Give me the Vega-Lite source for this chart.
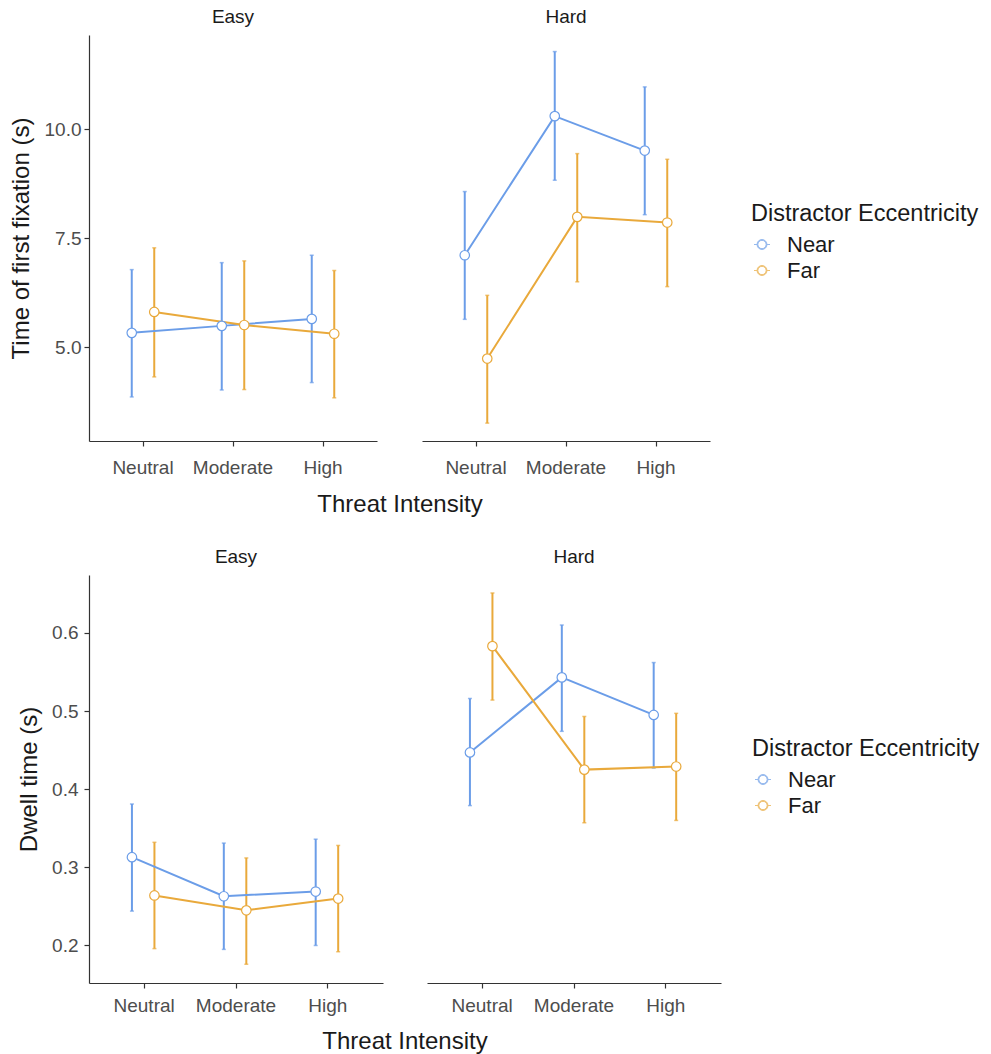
{
  "$schema": "https://vega.github.io/schema/vega-lite/v6.json",
  "padding": {"left": 9, "top": 8, "right": 5, "bottom": 5},
  "config": {
    "font": "Liberation Sans",
    "view": {"stroke": null},
    "axis": {
      "grid": false,
      "domainColor": "#333333",
      "domainWidth": 1.2,
      "tickColor": "#333333",
      "tickWidth": 1.2,
      "tickSize": 5,
      "labelColor": "#4d4d4d",
      "labelFontSize": 19,
      "titleFontSize": 24,
      "titleColor": "#1a1a1a",
      "titleFontWeight": "normal"
    },
    "header": {
      "labelFontSize": 19,
      "labelColor": "#1a1a1a",
      "titleFontSize": 24,
      "titleColor": "#1a1a1a",
      "titleFontWeight": "normal"
    },
    "legend": {
      "titleFontSize": 23.5,
      "titleFontWeight": "normal",
      "titleColor": "#1a1a1a",
      "titleLimit": 500,
      "labelFontSize": 22,
      "labelColor": "#1a1a1a",
      "symbolSize": 256,
      "symbolStrokeWidth": 1,
      "rowPadding": 4,
      "titlePadding": 8,
      "labelOffset": 14
    }
  },
  "datasets": {
    "fix": [
      {"Difficulty": "Easy", "Threat": "Neutral", "Eccentricity": "Near", "mean": 5.33, "lo": 3.86, "hi": 6.78},
      {"Difficulty": "Easy", "Threat": "Neutral", "Eccentricity": "Far", "mean": 5.81, "lo": 4.32, "hi": 7.28},
      {"Difficulty": "Easy", "Threat": "Moderate", "Eccentricity": "Near", "mean": 5.49, "lo": 4.02, "hi": 6.94},
      {"Difficulty": "Easy", "Threat": "Moderate", "Eccentricity": "Far", "mean": 5.51, "lo": 4.03, "hi": 6.98},
      {"Difficulty": "Easy", "Threat": "High", "Eccentricity": "Near", "mean": 5.65, "lo": 4.19, "hi": 7.11},
      {"Difficulty": "Easy", "Threat": "High", "Eccentricity": "Far", "mean": 5.31, "lo": 3.84, "hi": 6.76},
      {"Difficulty": "Hard", "Threat": "Neutral", "Eccentricity": "Near", "mean": 7.11, "lo": 5.64, "hi": 8.57},
      {"Difficulty": "Hard", "Threat": "Neutral", "Eccentricity": "Far", "mean": 4.74, "lo": 3.26, "hi": 6.19},
      {"Difficulty": "Hard", "Threat": "Moderate", "Eccentricity": "Near", "mean": 10.30, "lo": 8.83, "hi": 11.78},
      {"Difficulty": "Hard", "Threat": "Moderate", "Eccentricity": "Far", "mean": 7.99, "lo": 6.50, "hi": 9.44},
      {"Difficulty": "Hard", "Threat": "High", "Eccentricity": "Near", "mean": 9.51, "lo": 8.04, "hi": 10.97},
      {"Difficulty": "Hard", "Threat": "High", "Eccentricity": "Far", "mean": 7.86, "lo": 6.39, "hi": 9.31}
    ],
    "dwell": [
      {"Difficulty": "Easy", "Threat": "Neutral", "Eccentricity": "Near", "mean": 0.313, "lo": 0.244, "hi": 0.381},
      {"Difficulty": "Easy", "Threat": "Neutral", "Eccentricity": "Far", "mean": 0.264, "lo": 0.196, "hi": 0.332},
      {"Difficulty": "Easy", "Threat": "Moderate", "Eccentricity": "Near", "mean": 0.263, "lo": 0.195, "hi": 0.331},
      {"Difficulty": "Easy", "Threat": "Moderate", "Eccentricity": "Far", "mean": 0.245, "lo": 0.176, "hi": 0.312},
      {"Difficulty": "Easy", "Threat": "High", "Eccentricity": "Near", "mean": 0.269, "lo": 0.200, "hi": 0.336},
      {"Difficulty": "Easy", "Threat": "High", "Eccentricity": "Far", "mean": 0.260, "lo": 0.192, "hi": 0.328},
      {"Difficulty": "Hard", "Threat": "Neutral", "Eccentricity": "Near", "mean": 0.447, "lo": 0.379, "hi": 0.516},
      {"Difficulty": "Hard", "Threat": "Neutral", "Eccentricity": "Far", "mean": 0.583, "lo": 0.514, "hi": 0.651},
      {"Difficulty": "Hard", "Threat": "Moderate", "Eccentricity": "Near", "mean": 0.543, "lo": 0.474, "hi": 0.610},
      {"Difficulty": "Hard", "Threat": "Moderate", "Eccentricity": "Far", "mean": 0.425, "lo": 0.357, "hi": 0.493},
      {"Difficulty": "Hard", "Threat": "High", "Eccentricity": "Near", "mean": 0.495, "lo": 0.427, "hi": 0.562},
      {"Difficulty": "Hard", "Threat": "High", "Eccentricity": "Far", "mean": 0.429, "lo": 0.360, "hi": 0.497}
    ]
  },
  "spacing": 31,
  "resolve": {"scale": {"color": "independent"}, "legend": {"color": "independent"}},
  "vconcat": [
    {
      "data": {"name": "fix"},
      "facet": {
        "column": {
          "field": "Difficulty", "type": "nominal", "sort": ["Easy", "Hard"],
          "header": {"title": "Threat Intensity", "titleOrient": "bottom", "labelOrient": "top", "labelPadding": 8, "titlePadding": 6}
        }
      },
      "spacing": 45,
      "spec": {
        "width": 288,
        "height": 406,
        "encoding": {
          "x": {"field": "Threat", "type": "nominal", "sort": ["Neutral", "Moderate", "High"],
                "scale": {"paddingInner": 0, "paddingOuter": 0.1},
                "axis": {"title": null, "labelAngle": 0, "labelPadding": 12}},
          "xOffset": {"field": "Eccentricity", "type": "nominal", "sort": ["Near", "Far"],
                      "scale": {"paddingInner": 0, "paddingOuter": 2.55}},
          "color": {"field": "Eccentricity", "type": "nominal", "sort": ["Near", "Far"],
                    "scale": {"domain": ["Near", "Far"], "range": ["#6b9de8", "#e9a93b"]},
                    "legend": {"title": "Distractor Eccentricity", "orient": "none", "legendX": 662, "legendY": 167,
                               "symbolType": "M-1,0L-0.62,0M0.62,0L1,0M0.62,0A0.62,0.62,0,1,1,-0.62,0A0.62,0.62,0,1,1,0.62,0ZM0.52,0A0.52,0.52,0,1,0,-0.52,0A0.52,0.52,0,1,0,0.52,0Z"}}
        },
        "layer": [
          {"mark": {"type": "rule", "strokeWidth": 2},
           "encoding": {"y": {"field": "lo", "type": "quantitative", "scale": {"domain": [2.85, 12.16], "nice": false, "zero": false},
                              "axis": {"values": [5, 7.5, 10], "format": ".1f", "title": "Time of first fixation (s)", "labelPadding": 3, "titlePadding": 11}},
                        "y2": {"field": "hi"}}},
          {"mark": {"type": "tick", "size": 4, "thickness": 1.5},
           "encoding": {"y": {"field": "lo", "type": "quantitative", "title": "Time of first fixation (s)"}}},
          {"mark": {"type": "tick", "size": 4, "thickness": 1.5},
           "encoding": {"y": {"field": "hi", "type": "quantitative", "title": "Time of first fixation (s)"}}},
          {"mark": {"type": "line", "strokeWidth": 2},
           "encoding": {"y": {"field": "mean", "type": "quantitative", "title": "Time of first fixation (s)"}}},
          {"mark": {"type": "point", "filled": true, "opacity": 1, "size": 90},
           "encoding": {"y": {"field": "mean", "type": "quantitative", "title": "Time of first fixation (s)"}, "color": {"value": "white"}}},
          {"mark": {"type": "point", "filled": false, "opacity": 1, "size": 90, "strokeWidth": 1.2},
           "encoding": {"y": {"field": "mean", "type": "quantitative", "title": "Time of first fixation (s)"}}}
        ]
      }
    },
    {
      "data": {"name": "dwell"},
      "facet": {
        "column": {
          "field": "Difficulty", "type": "nominal", "sort": ["Easy", "Hard"],
          "header": {"title": "Threat Intensity", "titleOrient": "bottom", "labelOrient": "top", "labelPadding": 8, "titlePadding": 5}
        }
      },
      "spacing": 44,
      "spec": {
        "width": 294,
        "height": 408,
        "encoding": {
          "x": {"field": "Threat", "type": "nominal", "sort": ["Neutral", "Moderate", "High"],
                "scale": {"paddingInner": 0, "paddingOuter": 0.1},
                "axis": {"title": null, "labelAngle": 0, "labelPadding": 8}},
          "xOffset": {"field": "Eccentricity", "type": "nominal", "sort": ["Near", "Far"],
                      "scale": {"paddingInner": 0, "paddingOuter": 2.6}},
          "color": {"field": "Eccentricity", "type": "nominal", "sort": ["Near", "Far"],
                    "scale": {"domain": ["Near", "Far"], "range": ["#6b9de8", "#e9a93b"]},
                    "legend": {"title": "Distractor Eccentricity", "orient": "none", "legendX": 663, "legendY": 162,
                               "symbolType": "M-1,0L-0.62,0M0.62,0L1,0M0.62,0A0.62,0.62,0,1,1,-0.62,0A0.62,0.62,0,1,1,0.62,0ZM0.52,0A0.52,0.52,0,1,0,-0.52,0A0.52,0.52,0,1,0,0.52,0Z"}}
        },
        "layer": [
          {"mark": {"type": "rule", "strokeWidth": 2},
           "encoding": {"y": {"field": "lo", "type": "quantitative", "scale": {"domain": [0.152, 0.674], "nice": false, "zero": false},
                              "axis": {"values": [0.2, 0.3, 0.4, 0.5, 0.6], "format": ".1f", "title": "Dwell time (s)", "labelPadding": 6, "titlePadding": 10}},
                        "y2": {"field": "hi"}}},
          {"mark": {"type": "tick", "size": 4, "thickness": 1.5},
           "encoding": {"y": {"field": "lo", "type": "quantitative", "title": "Dwell time (s)"}}},
          {"mark": {"type": "tick", "size": 4, "thickness": 1.5},
           "encoding": {"y": {"field": "hi", "type": "quantitative", "title": "Dwell time (s)"}}},
          {"mark": {"type": "line", "strokeWidth": 2},
           "encoding": {"y": {"field": "mean", "type": "quantitative", "title": "Dwell time (s)"}}},
          {"mark": {"type": "point", "filled": true, "opacity": 1, "size": 90},
           "encoding": {"y": {"field": "mean", "type": "quantitative", "title": "Dwell time (s)"}, "color": {"value": "white"}}},
          {"mark": {"type": "point", "filled": false, "opacity": 1, "size": 90, "strokeWidth": 1.2},
           "encoding": {"y": {"field": "mean", "type": "quantitative", "title": "Dwell time (s)"}}}
        ]
      }
    }
  ]
}
